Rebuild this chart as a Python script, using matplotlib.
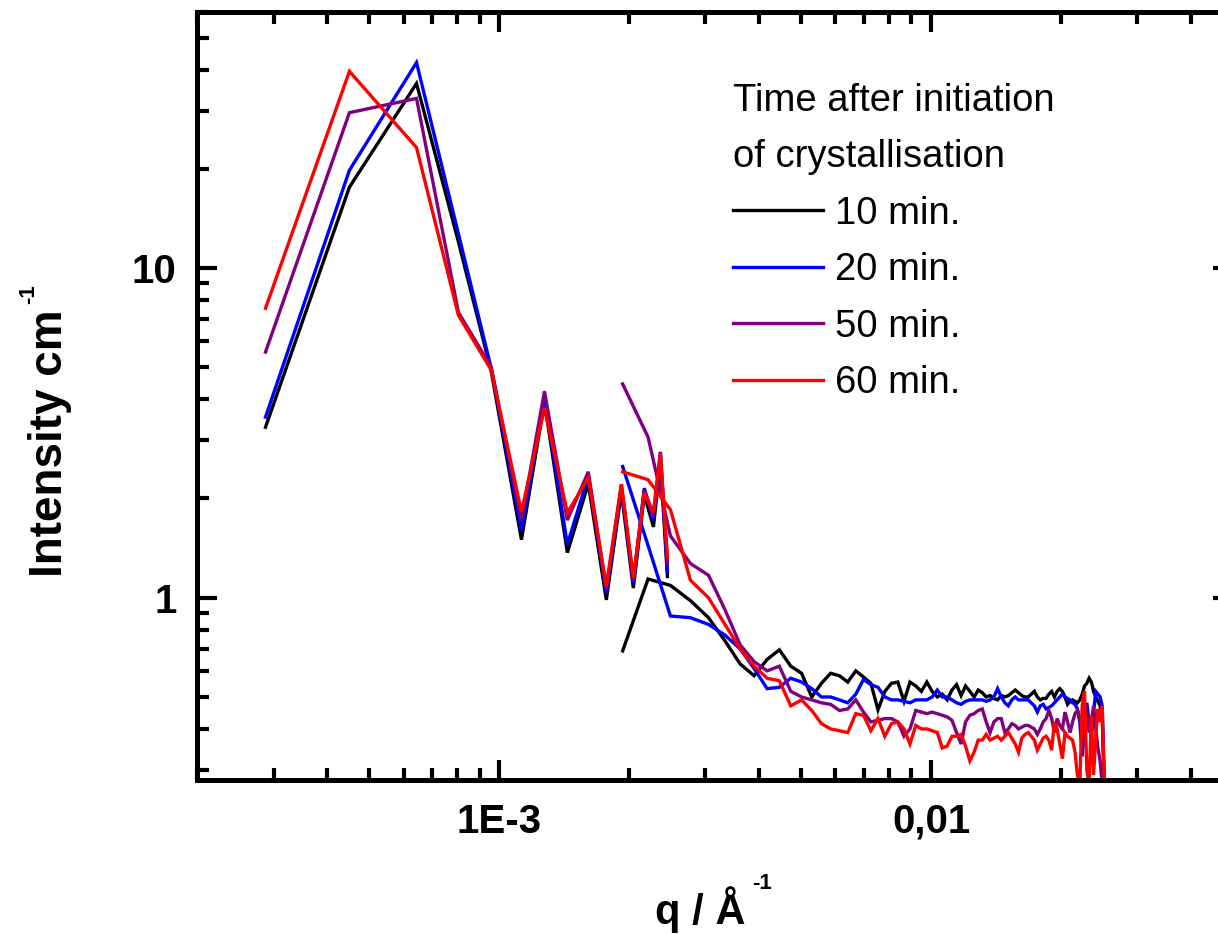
import matplotlib
matplotlib.use("Agg")
import matplotlib.pyplot as plt
from matplotlib.ticker import FixedLocator, FixedFormatter, LogLocator, NullFormatter

plt.rcParams['font.family'] = ['Liberation Sans', 'DejaVu Sans']
plt.rcParams['font.weight'] = 'bold'

# ---- data: USAXS (low q) branch -------------------------------------------
q_low = [2.874e-4, 4.496e-4, 6.43e-4, 8.04e-4, 9.58e-4, 1.125e-3, 1.272e-3,
         1.437e-3, 1.607e-3, 1.769e-3, 1.917e-3, 2.043e-3, 2.166e-3,
         2.274e-3, 2.360e-3, 2.450e-3]
I_low_10 = [3.29, 17.6, 36.3, 12.0, 4.85, 1.50, 3.93, 1.37, 2.22, 0.985,
            2.09, 1.07, 2.05, 1.64, 2.58, 1.16]
I_low_20 = [3.53, 19.8, 42.0, 12.7, 4.95, 1.60, 4.05, 1.45, 2.34, 1.03,
            2.17, 1.11, 2.15, 1.72, 2.77, 1.20]
I_low_50 = [5.56, 29.6, 32.7, 7.34, 5.00, 1.72, 4.23, 1.72, 2.41, 1.06,
            2.20, 1.13, 2.12, 1.77, 2.68, 1.27]
I_low_60 = [7.55, 39.5, 23.2, 7.19, 4.90, 1.82, 3.76, 1.81, 2.31, 1.085,
            2.21, 1.15, 2.08, 1.82, 2.75, 1.33]

# ---- data: SAXS (high q) branch -------------------------------------------
q_high = [0.00193, 0.00221, 0.00249, 0.00277, 0.00305, 0.00333, 0.00361,
          0.00389, 0.00417, 0.00445, 0.00473, 0.00501, 0.00529, 0.00557,
          0.00585, 0.00613, 0.00641, 0.00669, 0.00697, 0.00725, 0.00753,
          0.00781, 0.00809, 0.00837, 0.00865, 0.00893, 0.00921, 0.00949,
          0.00977, 0.01005, 0.01033, 0.01061, 0.01089, 0.01117, 0.01145,
          0.01173, 0.01201, 0.01229, 0.01257, 0.01285, 0.01313, 0.01341,
          0.01369, 0.01397, 0.01425, 0.01453, 0.01481, 0.01509, 0.01537,
          0.01565, 0.01593, 0.01621, 0.01649, 0.01677, 0.01705, 0.01733,
          0.01761, 0.01789, 0.01817, 0.01845, 0.01873, 0.01901, 0.01929,
          0.01957, 0.01985, 0.02013, 0.02041, 0.02069, 0.02097, 0.02125,
          0.02153, 0.02181, 0.02209, 0.02237, 0.02265, 0.02293, 0.02321,
          0.02349, 0.02377, 0.02405, 0.02433, 0.02461, 0.02489, 0.02517]

I_high_10 = [0.69, 1.14, 1.09, 0.98, 0.87, 0.74, 0.63, 0.58, 0.65, 0.695,
             0.62, 0.59, 0.50, 0.55, 0.59, 0.58, 0.555, 0.60, 0.575, 0.55,
             0.457, 0.52, 0.55, 0.555, 0.485, 0.555, 0.54, 0.52, 0.555, 0.52,
             0.50, 0.51, 0.49, 0.525, 0.545, 0.505, 0.54, 0.52, 0.50, 0.525,
             0.515, 0.50, 0.505, 0.495, 0.49, 0.505, 0.50, 0.505, 0.515, 0.525,
             0.515, 0.505, 0.50, 0.50, 0.51, 0.52, 0.50, 0.49, 0.495, 0.495,
             0.51, 0.52, 0.50, 0.52, 0.53, 0.52, 0.50, 0.475, 0.485, 0.49,
             0.485, 0.48, 0.49, 0.51, 0.54, 0.55, 0.57, 0.555, 0.52, 0.50,
             0.485, 0.47, 0.43, 0.27]
I_high_20 = [2.50, 1.44, 0.88, 0.87, 0.83, 0.77, 0.70, 0.61, 0.53, 0.535,
             0.57, 0.555, 0.53, 0.50, 0.50, 0.49, 0.48, 0.51, 0.565, 0.545,
             0.535, 0.50, 0.49, 0.49, 0.485, 0.48, 0.49, 0.49, 0.49, 0.50,
             0.525, 0.50, 0.50, 0.49, 0.48, 0.475, 0.485, 0.49, 0.49, 0.49,
             0.49, 0.485, 0.49, 0.50, 0.53, 0.50, 0.48, 0.47, 0.49, 0.50,
             0.49, 0.49, 0.49, 0.49, 0.48, 0.47, 0.45, 0.47, 0.475, 0.46,
             0.465, 0.47, 0.48, 0.49, 0.50, 0.51, 0.50, 0.495, 0.49, 0.48,
             0.475, 0.46, 0.42, 0.33, 0.40, 0.48, 0.42, 0.38, 0.45, 0.52,
             0.51, 0.50, 0.47, 0.27]
I_high_50 = [4.45, 3.07, 1.54, 1.27, 1.17, 0.92, 0.72, 0.64, 0.60, 0.62,
             0.52, 0.50, 0.49, 0.48, 0.475, 0.455, 0.46, 0.49, 0.45, 0.42,
             0.425, 0.43, 0.43, 0.42, 0.38, 0.40, 0.455, 0.45, 0.445, 0.45,
             0.445, 0.44, 0.435, 0.425, 0.39, 0.36, 0.42, 0.44, 0.445, 0.455,
             0.46, 0.42, 0.39, 0.42, 0.43, 0.43, 0.39, 0.40, 0.415, 0.41,
             0.40, 0.405, 0.41, 0.41, 0.405, 0.40, 0.385, 0.40, 0.42, 0.43,
             0.455, 0.43, 0.39, 0.43, 0.41, 0.40, 0.45, 0.42, 0.39, 0.42,
             0.445, 0.455, 0.43, 0.40, 0.43, 0.45, 0.39, 0.42, 0.47, 0.40,
             0.35, 0.32, 0.27, 0.27]
I_high_60 = [2.41, 2.28, 1.85, 1.13, 1.00, 0.83, 0.70, 0.62, 0.57, 0.56,
             0.47, 0.49, 0.455, 0.415, 0.40, 0.395, 0.39, 0.445, 0.44, 0.395,
             0.43, 0.38, 0.415, 0.42, 0.40, 0.36, 0.41, 0.40, 0.40, 0.395,
             0.39, 0.35, 0.355, 0.38, 0.38, 0.385, 0.355, 0.32, 0.34, 0.37,
             0.37, 0.385, 0.37, 0.375, 0.38, 0.37, 0.38, 0.39, 0.375, 0.36,
             0.34, 0.375, 0.385, 0.39, 0.38, 0.37, 0.345, 0.36, 0.375, 0.38,
             0.37, 0.345, 0.42, 0.40, 0.36, 0.325, 0.39, 0.38, 0.375, 0.37,
             0.34, 0.29, 0.27, 0.47, 0.52, 0.30, 0.27, 0.44, 0.29, 0.38,
             0.46, 0.42, 0.47, 0.27]

series_labels = ['10 min.', '20 min.', '50 min.', '60 min.']
series_colors = ['#000000', '#0000FF', '#800080', '#FF0000']
low_branches = [I_low_10, I_low_20, I_low_50, I_low_60]
high_branches = [I_high_10, I_high_20, I_high_50, I_high_60]

x_tick_values = [1e-3, 1e-2]
x_tick_labels = ['1E-3', '0,01']
y_tick_values = [1, 10]
y_tick_labels = ['1', '10']

# ---- figure ----------------------------------------------------------------
W, H = 1218, 934
fig = plt.figure(figsize=(W / 100, H / 100), dpi=100)
ax = fig.add_axes([0.16215, 0.16488, 0.8502, 0.8228])
ax.set_xscale('log')
ax.set_yscale('log')

lw = 2.4
handles = []
for lab, col, lo, hi in zip(series_labels, series_colors, low_branches, high_branches):
    h, = ax.plot(q_low, lo, color=col, lw=lw, solid_joinstyle='miter')
    ax.plot(q_high, hi, color=col, lw=lw, solid_joinstyle='miter')
    handles.append(h)

ax.set_xlim(2e-4, 5e-2)
ax.set_ylim(0.28, 60)

ax.xaxis.set_major_locator(FixedLocator(x_tick_values))
ax.xaxis.set_major_formatter(FixedFormatter(x_tick_labels))
ax.xaxis.set_minor_locator(LogLocator(base=10, subs=range(2, 10), numticks=30))
ax.xaxis.set_minor_formatter(NullFormatter())
ax.yaxis.set_major_locator(FixedLocator(y_tick_values))
ax.yaxis.set_major_formatter(FixedFormatter(y_tick_labels))
ax.yaxis.set_minor_locator(LogLocator(base=10, subs=range(2, 10), numticks=30))
ax.yaxis.set_minor_formatter(NullFormatter())

for sp in ax.spines.values():
    sp.set_linewidth(3.6)
ax.tick_params(which='both', direction='in', top=True, right=True, width=3.0)
ax.tick_params(which='major', length=14.5)
ax.tick_params(which='minor', length=8.5)
ax.tick_params(axis='x', which='major', labelsize=29, pad=16.5)
ax.tick_params(axis='y', which='major', labelsize=29, pad=15)

# axis titles with small raised "-1" exponents
fig.text(62 / W, 1 - 577 / H, 'Intensity cm', rotation=90,
         rotation_mode='anchor', ha='left', va='baseline', fontsize=33,
         fontweight='bold')
fig.text(34 / W, 1 - 304 / H, '-1', rotation=90, rotation_mode='anchor',
         ha='left', va='baseline', fontsize=16, fontweight='bold')
fig.text(655 / W, 1 - 924 / H, 'q / Å', ha='left', va='baseline',
         fontsize=30, fontweight='bold')
fig.text(752 / W, 1 - 889 / H, '-1', ha='left', va='baseline',
         fontsize=16, fontweight='bold')

leg = ax.legend(handles, series_labels,
                title='Time after initiation\nof crystallisation',
                loc='upper left', bbox_to_anchor=(733 / W, 1 - 83 / H),
                bbox_transform=fig.transFigure, frameon=False,
                prop={'size': 27.5, 'weight': 'normal'},
                title_fontproperties={'size': 27.5, 'weight': 'normal'},
                alignment='left', borderpad=0, borderaxespad=0,
                handlelength=2.36, handletextpad=0.31, labelspacing=0.54)
leg.get_title().set_linespacing(1.71)
for ln in leg.get_lines():
    ln.set_linewidth(2.4)

fig.savefig('out.png', dpi=100)
